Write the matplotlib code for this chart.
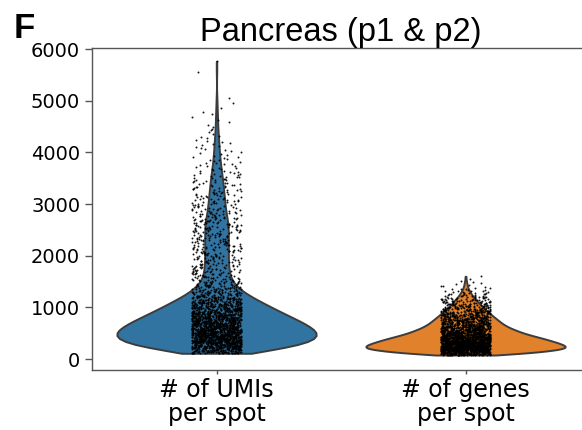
import numpy as np
import matplotlib
matplotlib.use('Agg')
import matplotlib.pyplot as plt

# metrics shown on the x axis
categories = ["# of UMIs\nper spot", "# of genes\nper spot"]
colors = ["#3274a1", "#e1812c"]

umi_bin_start = 110
umi_bin_width = 100
umi_counts = [113, 164, 199, 205, 195, 178, 158, 135, 115, 96,
              76, 57, 43, 33, 27, 25, 24, 23, 23, 23,
              23, 23, 23, 23, 23, 22, 20, 18, 17, 16,
              15, 14, 13, 12, 11, 9, 8, 7, 6, 5,
              5, 4, 3, 3, 2, 2, 2, 1, 1, 1,
              0, 0, 0, 0, 1, 0, 1]

gene_bin_start = 77
gene_bin_width = 50
gene_counts = [113, 164, 205, 205, 191, 174, 156, 135, 117, 103,
               90, 80, 72, 66, 59, 53, 47, 41, 35, 30,
               25, 21, 16, 12, 9, 6, 4, 3, 2, 1, 1]


def expand_bins(start, width, counts):
    """Spread each bin's spots evenly over the bin."""
    vals = []
    for i, c in enumerate(counts):
        if c == 0:
            continue
        lo = start + i * width
        step = width / c
        vals.append(lo + step * (np.arange(c) + 0.5))
    return np.concatenate(vals)


umi_values = expand_bins(umi_bin_start, umi_bin_width, umi_counts)
gene_values = expand_bins(gene_bin_start, gene_bin_width, gene_counts)
data = [umi_values, gene_values]

fig = plt.figure(figsize=(5.82, 4.30), dpi=100)
ax = fig.add_axes([0.1581, 0.1395, 0.8557, 0.7488])

parts = ax.violinplot(data, positions=[0, 1], widths=0.8,
                      showextrema=False, bw_method=0.12)
for body, col in zip(parts['bodies'], colors):
    body.set_facecolor(col)
    body.set_edgecolor('#3c3c3c')
    body.set_linewidth(1.4)
    body.set_alpha(1)
    body.set_zorder(1)

# jitter for the strip points
rng = np.random.default_rng(0)
for pos, vals in enumerate(data):
    xs = pos + rng.uniform(-0.1, 0.1, len(vals))
    ax.scatter(xs, vals, s=2.0, color='black', linewidths=0,
               alpha=0.9, zorder=3)

ax.set_xlim(-0.5, 1.5)
ax.set_ylim(-213, 6020)
ax.set_yticks([0, 1000, 2000, 3000, 4000, 5000, 6000])
ax.set_xticks([0, 1])
ax.set_xticklabels(categories, fontsize=17, linespacing=1.0)
ax.tick_params(axis='y', labelsize=14, length=5, width=1, color='#555555')
ax.tick_params(axis='x', length=3, width=1, color='#555555', pad=3)
for sp in ax.spines.values():
    sp.set_color('#555555')
    sp.set_linewidth(1.0)

ax.set_title("Pancreas (p1 & p2)", fontsize=23.5, family='Liberation Sans', pad=5)
fig.text(14 / 582, 1 - 38 / 430, "F", fontsize=25, fontweight='bold',
         family='Liberation Sans', va='baseline', ha='left')

fig.savefig("out.png", dpi=100)
